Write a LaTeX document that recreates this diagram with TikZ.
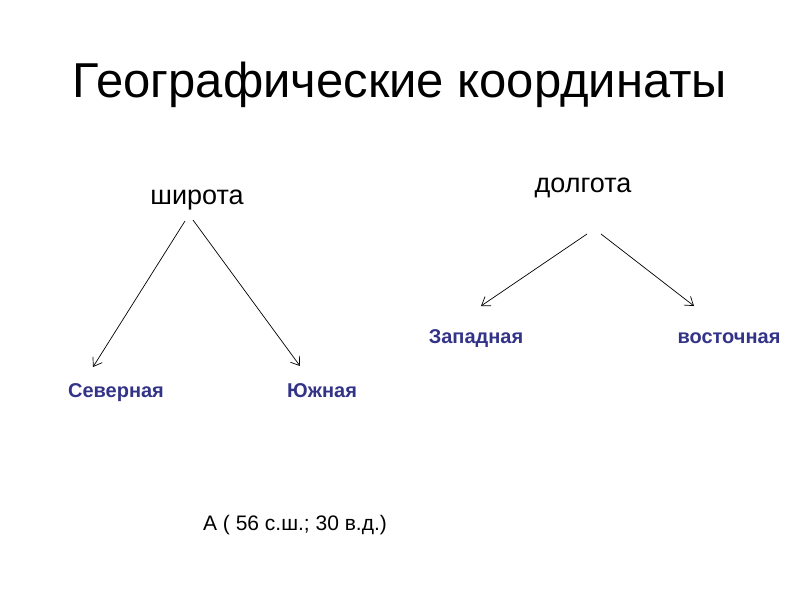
\documentclass[tikz,border=0pt]{standalone}
\usepackage{fontspec}
\setmainfont{Liberation Sans}
\usetikzlibrary{arrows.meta}
\definecolor{kind}{RGB}{51,51,136}

\begin{document}
\begin{tikzpicture}[x=1pt, y=-1pt,
  kindlabel/.style={anchor=base, text=kind, font=\fontsize{20}{22}\selectfont\bfseries},
  coordtype/.style={anchor=base, font=\fontsize{27}{30}\selectfont},
  branch/.style={-{Straight Barb[length=8pt, width=11pt]}, line width=0.7pt, draw=black}]
\useasboundingbox (0,0) rectangle (800,600);
\node[anchor=base, font=\fontsize{49}{54}\selectfont] (title) at (400, 97) {Географические координаты};
\node[coordtype] (lat) at (197, 204) {широта};
\node[coordtype] (lon) at (583, 192) {долгота};
\coordinate (latL) at (185, 221);
\coordinate (latR) at (193, 220);
\coordinate (lonL) at (587, 234);
\coordinate (lonR) at (601, 234);
\coordinate (northTip) at (93, 367);
\coordinate (southTip) at (300, 366);
\coordinate (westTip) at (481, 306);
\coordinate (eastTip) at (694, 306);
\node[kindlabel] (north) at (116, 397) {Северная};
\node[kindlabel] (south) at (322, 397) {Южная};
\node[kindlabel] (west) at (476, 343) {Западная};
\node[kindlabel] (east) at (729, 343) {восточная};
\node[anchor=base, font=\fontsize{21}{24}\selectfont] (point) at (295, 530) {А ( 56 с.ш.; 30 в.д.)};
\draw [branch] (latL) -- (northTip);
\draw [branch] (latR) -- (southTip);
\draw [branch] (lonL) -- (westTip);
\draw [branch] (lonR) -- (eastTip);
\end{tikzpicture}
\end{document}
